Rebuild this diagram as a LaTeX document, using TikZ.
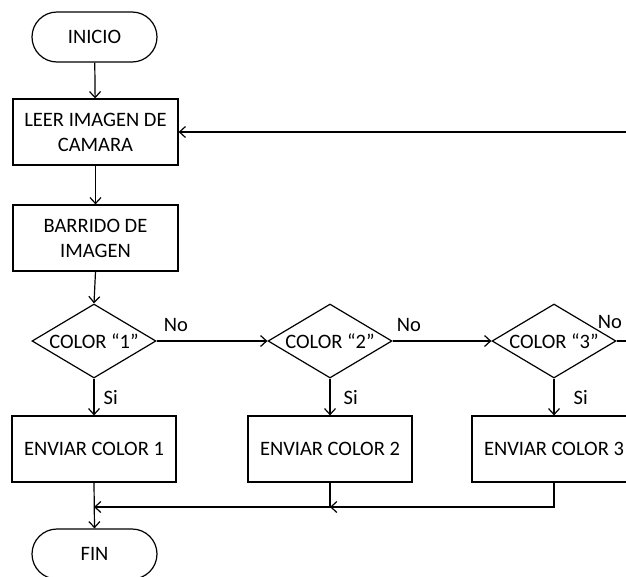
\documentclass[tikz,border=0pt]{standalone}
\usepackage{fontspec}
\setmainfont{Carlito}
\usetikzlibrary{arrows.meta,shapes.geometric,shapes.misc}
\begin{document}
\begin{tikzpicture}[x=1pt,y=-1pt,
  font=\fontsize{20.5}{25}\selectfont,
  line width=1.2pt,
  every node/.style={line width=1.2pt},
  flow/.style={-{Straight Barb[length=6pt,width=11pt,line width=1.2pt]}},
  terminal/.style={draw, rounded rectangle, minimum width=125pt, minimum height=50pt, inner sep=0pt},
  process/.style={draw, rectangle, minimum width=165pt, minimum height=66pt, align=center, inner sep=0pt},
  sendbox/.style={draw, rectangle, minimum width=164pt, minimum height=66pt, inner sep=0pt},
  decision/.style={draw, diamond, minimum width=124pt, minimum height=74pt, inner sep=0pt},
  tag/.style={inner sep=0pt}]
\useasboundingbox (0,0) rectangle (626,576);
\clip (0,0) rectangle (626,576);

% main column
\node[terminal] (inicio) at (94.5,37) {INICIO};
\node[process] (leer) at (95.5,132) {LEER IMAGEN DE\\CAMARA};
\node[process] (barrido) at (95.5,238) {BARRIDO DE\\IMAGEN};

% colour tests
\node[decision, label=center:{COLOR “1”}] (d1) at (94,341) {};
\node[decision, label=center:{COLOR “2”}] (d2) at (330,341) {};
\node[decision, label=center:{COLOR “3”}] (d3) at (554,341) {};

% outputs
\node[sendbox] (e1) at (94,449) {ENVIAR COLOR 1};
\node[sendbox] (e2) at (330,449) {ENVIAR COLOR 2};
\node[sendbox] (e3) at (554,449) {ENVIAR COLOR 3};

\node[terminal] (fin) at (94.5,554) {FIN};

% branch labels
\node[tag] (no1) at (176,325) {No};
\node[tag] (no2) at (409,325) {No};
\node[tag] (no3) at (610,322) {No};
\node[tag, anchor=west] (si1) at (103,398) {Si};
\node[tag, anchor=west] (si2) at (343,398) {Si};
\node[tag, anchor=west] (si3) at (573,398) {Si};

% junction points and loop return
\coordinate (m1) at (94,507);
\coordinate (m2) at (330,507);
\coordinate (loop) at (660,341);

% connectors
\draw[flow] (inicio) -- (leer);
\draw[flow] (leer) -- (barrido);
\draw[flow] (barrido.south) -- (d1.north);
\draw[flow] (d1.east) -- (d2.west);
\draw[flow] (d2.east) -- (d3.west);
\draw[flow] (d3.east) -- (loop) |- (leer.east);
\draw[flow] (d1.south) -- (e1.north);
\draw[flow] (d2.south) -- (e2.north);
\draw[flow] (d3.south) -- (e3.north);
\draw[flow] (e1.south) -- (fin.north);
\draw[flow] (e2.south) |- (m1);
\draw[flow] (e3.south) |- (m2);
\end{tikzpicture}
\end{document}
